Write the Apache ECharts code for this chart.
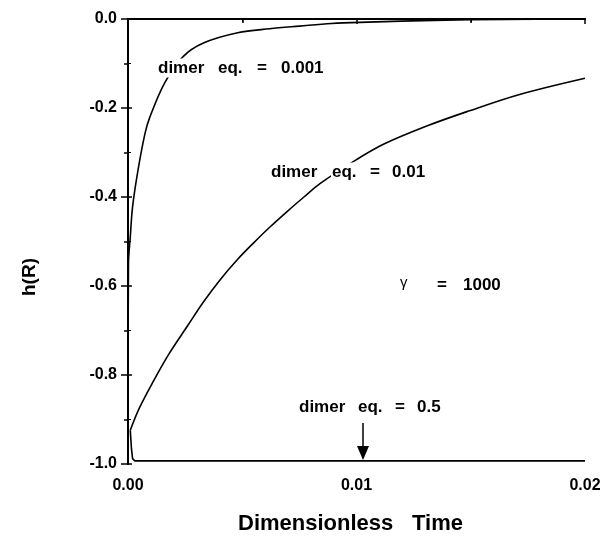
<!DOCTYPE html>
<html lang="en">
<head>
    <meta charset="utf-8"/>
    <title>h(R) vs time</title>
    <script src="https://cdn.jsdelivr.net/npm/echarts@6/dist/echarts.min.js"></script>
    <style>
        html, body { margin: 0; padding: 0; background: #fff; }
        #chart { width: 608px; height: 542px; }
    </style>
</head>
<body>
<div id="chart"></div>
<script>
    // dimer eq. = 0.001
    var tA = [0, 0.00002, 0.0001, 0.0002, 0.00044, 0.00075, 0.00096, 0.0016, 0.0024, 0.0033, 0.0048, 0.0062, 0.0075, 0.0089, 0.0105, 0.0134, 0.0165, 0.02];
    var hA = [-0.925, -0.55, -0.49, -0.422, -0.339, -0.256, -0.22, -0.144, -0.085, -0.054, -0.031, -0.022, -0.016, -0.010, -0.007, -0.003, -0.001, 0];
    // dimer eq. = 0.01
    var tB = [0.0001, 0.0005, 0.0011, 0.0018, 0.0026, 0.0033, 0.0040, 0.0048, 0.0055, 0.0062, 0.0070, 0.0077, 0.0084, 0.0100, 0.0112, 0.0131, 0.0149, 0.0171, 0.0200];
    var hB = [-0.924, -0.874, -0.815, -0.752, -0.690, -0.636, -0.588, -0.540, -0.503, -0.468, -0.431, -0.400, -0.370, -0.316, -0.281, -0.240, -0.207, -0.170, -0.133];
    // dimer eq. = 0.5
    var tC = [0.0001, 0.00015, 0.0002, 0.0003, 0.01, 0.02];
    var hC = [-0.924, -0.965, -0.988, -0.993, -0.993, -0.993];

    var xTicks = [0, 0.01, 0.02];

    // annotation words: text, left x, centre y, font size, bold
    var notes = [
        ['dimer', 157, 68, 17, true], ['eq.', 217, 68, 17, true], ['=', 256, 68, 17, true], ['0.001', 280, 68, 17, true],
        ['dimer', 270, 172, 17, true], ['eq.', 331, 172, 17, true], ['=', 369, 172, 17, true], ['0.01', 391, 172, 17, true],
        ['γ', 399, 283, 15, false], ['=', 436, 285, 17, true], ['1000', 462, 285, 17, true],
        ['dimer', 298, 407, 17, true], ['eq.', 357, 407, 17, true], ['=', 394, 407, 17, true], ['0.5', 416, 407, 17, true]
    ];

    function pairs(t, h) {
        var out = [];
        for (var i = 0; i < t.length; i++) {
            out.push([t[i], h[i]]);
        }
        return out;
    }

    var font = '"Liberation Sans", Arial, sans-serif';
    var tickLab = {color: '#000', fontFamily: font, fontWeight: 'bold', fontSize: 16};

    var graphics = [];
    for (var i = 0; i < notes.length; i++) {
        var n = notes[i];
        graphics.push({
            type: 'text', x: n[1], y: n[2], z: 10,
            style: {text: n[0], fill: '#000', backgroundColor: '#fff', padding: [1, 1],
                font: (n[4] ? 'bold ' : '') + n[3] + 'px ' + font, verticalAlign: 'middle'}
        });
    }
    graphics.push({
        type: 'line', shape: {x1: 363, y1: 423, x2: 363, y2: 450},
        style: {stroke: '#000', lineWidth: 1.5}
    }, {
        type: 'polygon', shape: {points: [[357, 446], [369, 446], [363, 460]]},
        style: {fill: '#000'}
    }, {
        type: 'text', x: 30, y: 277, rotation: Math.PI / 2,
        style: {text: 'h(R)', fill: '#000', font: 'bold 19px ' + font,
            align: 'center', verticalAlign: 'middle'}
    }, {
        type: 'text', x: 238, y: 524,
        style: {text: 'Dimensionless', fill: '#000', font: 'bold 22px ' + font, verticalAlign: 'middle'}
    }, {
        type: 'text', x: 412, y: 524,
        style: {text: 'Time', fill: '#000', font: 'bold 22px ' + font, verticalAlign: 'middle'}
    });

    var myChart = echarts.init(document.getElementById('chart'));
    var option = {
        animation: false,
        backgroundColor: '#fff',
        grid: {left: 128, right: 23, top: 19, bottom: 78},
        xAxis: [{
            type: 'value', min: 0, max: 0.02, interval: 0.01, position: 'bottom',
            axisLine: {lineStyle: {color: '#000', width: 2}},
            axisTick: {inside: false, length: 5, lineStyle: {color: '#000', width: 1.5}},
            minorTick: {show: true, splitNumber: 2, length: 4, lineStyle: {color: '#000', width: 1.5}},
            splitLine: {show: false},
            axisLabel: Object.assign({margin: 14, formatter: function (v) {
                return xTicks.indexOf(v) >= 0 ? v.toFixed(2) : '';
            }}, tickLab)
        }, {
            type: 'value', min: 0, max: 0.02, interval: 0.01, position: 'top',
            axisLine: {lineStyle: {color: '#000', width: 2}},
            axisTick: {inside: true, length: 4, lineStyle: {color: '#000', width: 1.5}},
            minorTick: {show: true, splitNumber: 2, length: 3, lineStyle: {color: '#000'}},
            splitLine: {show: false},
            axisLabel: {show: false}
        }],
        yAxis: [{
            type: 'value', min: -1, max: 0, interval: 0.2, position: 'left',
            axisLine: {lineStyle: {color: '#000', width: 2}},
            axisTick: {inside: false, length: 7, lineStyle: {color: '#000', width: 1.5}},
            minorTick: {show: true, splitNumber: 2, length: 4, lineStyle: {color: '#000', width: 1.5}},
            splitLine: {show: false},
            axisLabel: Object.assign({margin: 11, formatter: function (v) {
                return v.toFixed(1);
            }}, tickLab)
        }, {
            type: 'value', min: -1, max: 0, interval: 0.2, position: 'right',
            axisLine: {lineStyle: {color: '#000', width: 2}},
            axisTick: {inside: false, length: 4, lineStyle: {color: '#000', width: 1.5}},
            minorTick: {show: true, splitNumber: 2, length: 3, lineStyle: {color: '#000'}},
            splitLine: {show: false},
            axisLabel: {show: false}
        }],
        series: [{
            name: 'dimer eq. = 0.001', type: 'line', data: pairs(tA, hA),
            showSymbol: false, smooth: 0.35,
            lineStyle: {color: '#000', width: 1.6}
        }, {
            name: 'dimer eq. = 0.01', type: 'line', data: pairs(tB, hB),
            showSymbol: false, smooth: 0.35,
            lineStyle: {color: '#000', width: 1.6}
        }, {
            name: 'dimer eq. = 0.5', type: 'line', data: pairs(tC, hC),
            showSymbol: false, smooth: false,
            lineStyle: {color: '#000', width: 1.6}
        }],
        graphic: graphics
    };
    myChart.setOption(option);
</script>
</body>
</html>
